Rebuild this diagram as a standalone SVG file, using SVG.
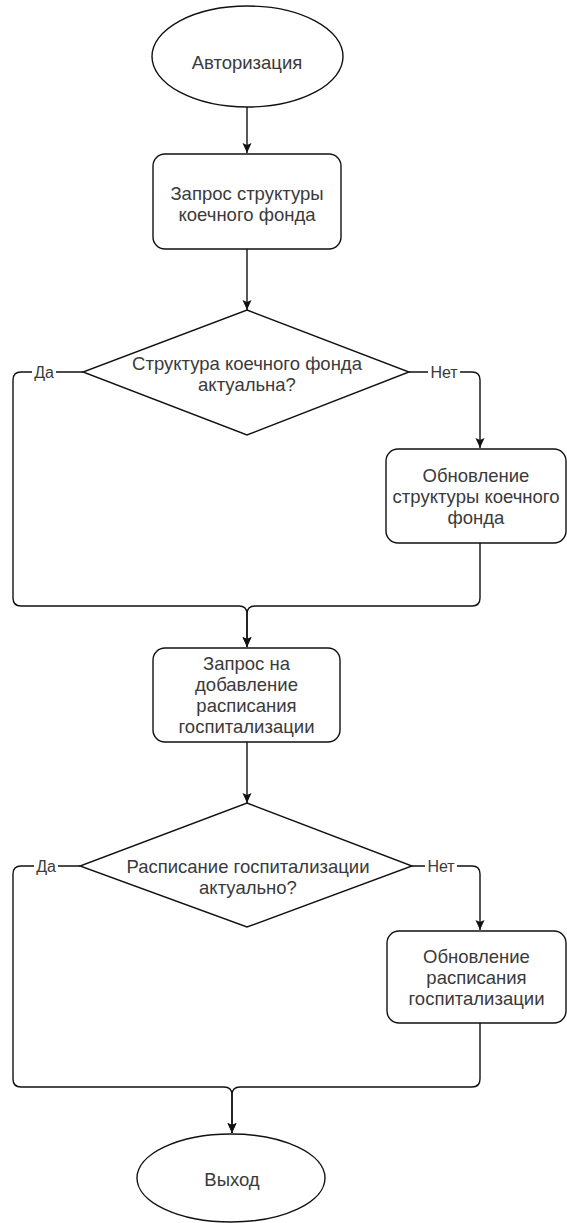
<svg xmlns="http://www.w3.org/2000/svg" width="567" height="1223" viewBox="0 0 567 1223">
  <style>
    .shape { fill: #ffffff; stroke: #111111; stroke-width: 1.4; }
    .edge { fill: none; stroke: #111111; stroke-width: 1.4; }
    .t { font-family: "Liberation Sans", Arial, sans-serif; font-size: 18.5px; fill: #3a3a3a; text-anchor: middle; }
    .lbl { font-family: "Liberation Sans", Arial, sans-serif; font-size: 16px; fill: #3a3a3a; text-anchor: middle; }
    .lblbg { fill: #ffffff; }
  </style>
  <defs>
    <marker id="arrow" viewBox="0 0 10 10" refX="10" refY="5" markerWidth="10" markerHeight="10" markerUnits="userSpaceOnUse" orient="auto">
      <path d="M0,0.5 L10,5 L0,9.5 L2,5 Z" fill="#111111"/>
    </marker>
  </defs>
  <rect width="567" height="1223" fill="#ffffff"/>

  <g id="connectors">
    <path class="edge" d="M247,107 V153" marker-end="url(#arrow)"/>
    <path class="edge" d="M247,249 V310" marker-end="url(#arrow)"/>
    <path class="edge" d="M83,372 H21 Q13,372 13,380 V598 Q13,606 21,606 H239 Q247,606 247,614 V647" marker-end="url(#arrow)"/>
    <path class="edge" d="M409,372 H472 Q480,372 480,380 V448" marker-end="url(#arrow)"/>
    <path class="edge" d="M480,543 V598 Q480,606 472,606 H255 Q247,606 247,614 V647" marker-end="url(#arrow)"/>
    <path class="edge" d="M247,742 V803" marker-end="url(#arrow)"/>
    <path class="edge" d="M80,866 H21 Q13,866 13,874 V1079 Q13,1087 21,1087 H224 Q232,1087 232,1095 V1133" marker-end="url(#arrow)"/>
    <path class="edge" d="M412,866 H472 Q480,866 480,874 V930" marker-end="url(#arrow)"/>
    <path class="edge" d="M480,1023 V1079 Q480,1087 472,1087 H240 Q232,1087 232,1095 V1133" marker-end="url(#arrow)"/>
    <g id="edge-labels">
      <rect class="lblbg" x="32" y="363" width="24" height="17"/>
      <text class="lbl" x="44" y="378">Да</text>
      <rect class="lblbg" x="428" y="363" width="32" height="17"/>
      <text class="lbl" x="444" y="378">Нет</text>
      <rect class="lblbg" x="34" y="857" width="24" height="17"/>
      <text class="lbl" x="46" y="872">Да</text>
      <rect class="lblbg" x="425" y="857" width="32" height="17"/>
      <text class="lbl" x="441" y="872">Нет</text>
    </g>
  </g>

  <g id="start">
    <ellipse class="shape" cx="247.5" cy="56.5" rx="95.5" ry="50.5"/>
    <text class="t" x="247" y="69">Авторизация</text>
  </g>

  <g id="request-structure">
    <rect class="shape" x="153" y="154" width="188" height="95" rx="12" ry="12"/>
    <text class="t" x="247" y="200">Запрос структуры</text>
    <text class="t" x="247" y="221">коечного фонда</text>
  </g>

  <g id="decision-structure">
    <polygon class="shape" points="247,310 409,372 247,435 83,372"/>
    <text class="t" x="247" y="370">Структура коечного фонда</text>
    <text class="t" x="247" y="391">актуальна?</text>
  </g>

  <g id="update-structure">
    <rect class="shape" x="386" y="449" width="180" height="94" rx="12" ry="12"/>
    <text class="t" x="476" y="482">Обновление</text>
    <text class="t" x="476" y="503">структуры коечного</text>
    <text class="t" x="476" y="524">фонда</text>
  </g>

  <g id="request-schedule">
    <rect class="shape" x="153" y="648" width="187" height="94" rx="12" ry="12"/>
    <text class="t" x="246.5" y="670">Запрос на</text>
    <text class="t" x="246.5" y="691">добавление</text>
    <text class="t" x="246.5" y="712">расписания</text>
    <text class="t" x="246.5" y="733">госпитализации</text>
  </g>

  <g id="decision-schedule">
    <polygon class="shape" points="247,803 412,866 247,927 80,866"/>
    <text class="t" x="248" y="873">Расписание госпитализации</text>
    <text class="t" x="248" y="894">актуально?</text>
  </g>

  <g id="update-schedule">
    <rect class="shape" x="387" y="931" width="179" height="92" rx="12" ry="12"/>
    <text class="t" x="476.5" y="963">Обновление</text>
    <text class="t" x="476.5" y="984">расписания</text>
    <text class="t" x="476.5" y="1005">госпитализации</text>
  </g>

  <g id="end">
    <ellipse class="shape" cx="231" cy="1178" rx="94" ry="44"/>
    <text class="t" x="232" y="1186">Выход</text>
  </g>
</svg>
